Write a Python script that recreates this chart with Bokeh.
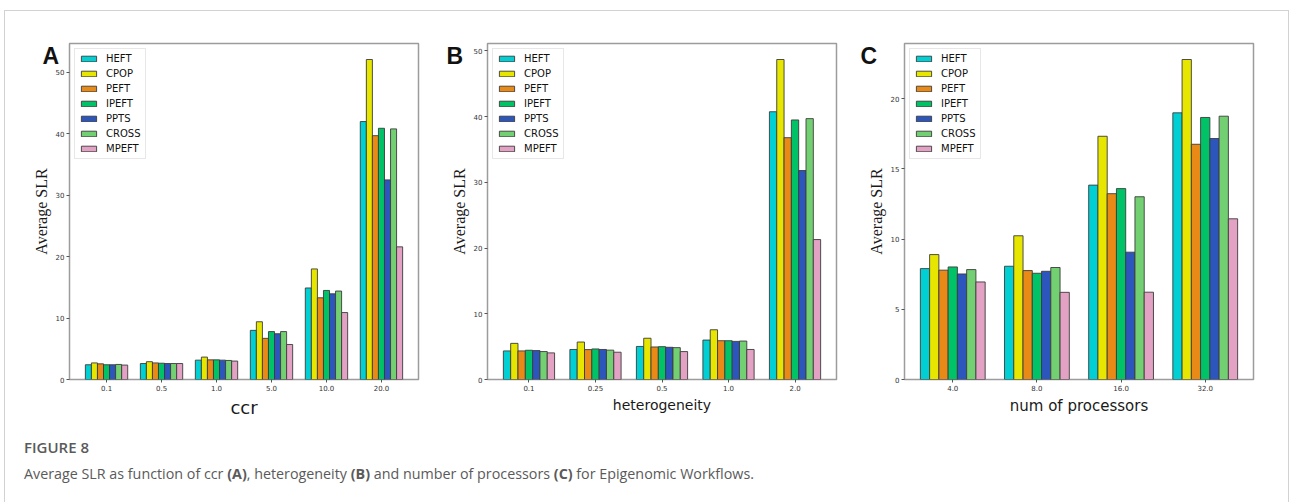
from bokeh.plotting import figure
from bokeh.models import (ColumnDataSource, Range1d, FixedTicker, Title, Div)
from bokeh.layouts import row, column
from bokeh.transform import dodge
from bokeh.embed import file_html
from bokeh.resources import INLINE

# ---------------- data ----------------
series_names = ["HEFT", "CPOP", "PEFT", "IPEFT", "PPTS", "CROSS", "MPEFT"]
series_colors = ["#00d0d4", "#e6e600", "#ea8a16", "#00c266", "#2d56bd", "#72d072", "#e3a1c3"]

ccr_labels = ["0.1", "0.5", "1.0", "5.0", "10.0", "20.0"]
ccr_heft = [2.4, 2.6, 3.15, 8.0, 14.9, 42.0]
ccr_cpop = [2.7, 2.9, 3.65, 9.4, 18.0, 52.1]
ccr_peft = [2.55, 2.7, 3.2, 6.7, 13.3, 39.7]
ccr_ipeft = [2.4, 2.65, 3.2, 7.8, 14.5, 40.9]
ccr_ppts = [2.4, 2.6, 3.15, 7.45, 13.95, 32.5]
ccr_cross = [2.45, 2.6, 3.1, 7.8, 14.4, 40.8]
ccr_mpeft = [2.35, 2.6, 3.0, 5.7, 10.9, 21.6]
ccr_yticks = [0, 10, 20, 30, 40, 50]

het_labels = ["0.1", "0.25", "0.5", "1.0", "2.0"]
het_heft = [4.35, 4.57, 5.03, 6.0, 40.75]
het_cpop = [5.5, 5.7, 6.28, 7.57, 48.7]
het_peft = [4.35, 4.55, 4.95, 5.9, 36.8]
het_ipeft = [4.45, 4.65, 5.0, 5.9, 39.5]
het_ppts = [4.4, 4.57, 4.9, 5.8, 31.8]
het_cross = [4.25, 4.47, 4.85, 5.85, 39.7]
het_mpeft = [4.05, 4.15, 4.25, 4.57, 21.3]
het_yticks = [0, 10, 20, 30, 40, 50]

proc_labels = ["4.0", "8.0", "16.0", "32.0"]
proc_heft = [7.9, 8.07, 13.85, 19.0]
proc_cpop = [8.9, 10.24, 17.33, 22.8]
proc_peft = [7.79, 7.76, 13.24, 16.76]
proc_ipeft = [8.02, 7.57, 13.6, 18.67]
proc_ppts = [7.52, 7.71, 9.07, 17.17]
proc_cross = [7.83, 7.98, 13.02, 18.76]
proc_mpeft = [6.95, 6.21, 6.22, 11.45]
proc_yticks = [0, 5, 10, 15, 20]

BAR_W = 0.11
FIG_H = 409
TOP_B = 32
BOT_B = 41


def make_panel(labels, series, yticks, xlabel, xlabel_size, letter,
               width, left, right, letter_px):
    n = len(labels)
    half = BAR_W * len(series) / 2
    margin = 0.05 * (n - 1 + 2 * half)
    xr = Range1d(-half - margin, n - 1 + half + margin)
    ymax = max(max(v) for v in series) * 1.05
    yr = Range1d(0, ymax)
    p = figure(width=width, height=FIG_H, x_range=xr, y_range=yr,
               output_backend="svg", toolbar_location=None,
               min_border_left=left, min_border_right=right,
               min_border_top=TOP_B, min_border_bottom=BOT_B)
    p.xgrid.visible = False
    p.ygrid.visible = False
    p.outline_line_color = "#9c9c9c"
    p.outline_line_width = 1.5
    p.background_fill_color = "white"
    p.border_fill_color = "white"

    k0 = (len(series) - 1) / 2
    for k, (name, vals, col) in enumerate(zip(series_names, series, series_colors)):
        src = ColumnDataSource(dict(x=list(range(n)), top=vals))
        p.vbar(x=dodge("x", (k - k0) * BAR_W, range=p.x_range), top="top",
               bottom=0, width=BAR_W, source=src, fill_color=col,
               line_color="#3c3c3c", line_width=0.9, legend_label=name)

    for ax in (p.xaxis, p.yaxis):
        ax.axis_line_color = None
        ax.major_tick_line_color = "#555555"
        ax.major_tick_out = 3
        ax.major_tick_in = 0
        ax.minor_tick_line_color = None
        ax.major_label_text_font = "DejaVu Sans"
        ax.major_label_text_font_size = "7px"
        ax.major_label_text_color = "#333333"
        ax.major_label_standoff = 2

    p.xaxis.ticker = FixedTicker(ticks=list(range(n)))
    p.xaxis.major_label_overrides = {i: lab for i, lab in enumerate(labels)}
    p.xaxis.axis_label = xlabel
    p.xaxis.axis_label_text_font = "DejaVu Sans"
    p.xaxis.axis_label_text_font_style = "normal"
    p.xaxis.axis_label_text_font_size = xlabel_size
    p.xaxis.axis_label_text_color = "#1a1a1a"
    p.xaxis.axis_label_standoff = 3

    p.yaxis.ticker = FixedTicker(ticks=yticks)
    p.yaxis.axis_label = "Average SLR"
    p.yaxis.axis_label_text_font = "Liberation Serif"
    p.yaxis.axis_label_text_font_style = "normal"
    p.yaxis.axis_label_text_font_size = "16px"
    p.yaxis.axis_label_text_color = "#1a1a1a"
    p.yaxis.axis_label_standoff = 3

    lg = p.legend[0]
    lg.location = "top_left"
    lg.margin = 5
    lg.padding = 4
    lg.spacing = 4
    lg.glyph_width = 19
    lg.glyph_height = 7
    lg.label_height = 11
    lg.label_standoff = 8
    lg.label_text_font = "DejaVu Sans"
    lg.label_text_font_size = "10px"
    lg.label_text_color = "#111111"
    lg.border_line_color = "#d0d0d0"
    lg.border_line_width = 1
    lg.background_fill_alpha = 1.0

    # panel letter: a title shifted left of the frame and down beside it
    p.add_layout(Title(text=letter, align="left", vertical_align="bottom",
                       offset=-letter_px, standoff=-50,
                       text_font="Liberation Sans", text_font_style="bold",
                       text_font_size="23px", text_color="#111111"), "above")
    return p


pA = make_panel(ccr_labels,
                [ccr_heft, ccr_cpop, ccr_peft, ccr_ipeft, ccr_ppts, ccr_cross, ccr_mpeft],
                ccr_yticks, "ccr", "18px", "A", 435, 64, 22, 27)
pB = make_panel(het_labels,
                [het_heft, het_cpop, het_peft, het_ipeft, het_ppts, het_cross, het_mpeft],
                het_yticks, "heterogeneity", "14px", "B", 412, 47, 16, 41)
pC = make_panel(proc_labels,
                [proc_heft, proc_cpop, proc_peft, proc_ipeft, proc_ppts, proc_cross, proc_mpeft],
                proc_yticks, "num of processors", "15px", "C", 436, 52, 35, 44)

caption_html = (
    '<div style="font-family:\'Open Sans\',sans-serif;color:#5a5a5a;'
    'padding:18px 0 0 19px;">'
    '<div style="font-size:15px;font-weight:600;line-height:18px;">FIGURE 8</div>'
    '<div style="font-size:14.3px;line-height:20px;margin-top:8px;">Average SLR as function of ccr '
    '<b>(A)</b>, heterogeneity <b>(B)</b> and number of processors <b>(C)</b> '
    'for Epigenomic Workflows.</div></div>'
)
cap = Div(text=caption_html, width=1283, height=82, margin=0)

layout = column(row(pA, pB, pC), cap, margin=(10, 0, 0, 4),
                styles={"border-top": "1px solid #d2d2d2",
                        "border-left": "1px solid #d2d2d2",
                        "border-right": "1px solid #d2d2d2"})

open("out.html", "w").write(file_html(layout, INLINE))
